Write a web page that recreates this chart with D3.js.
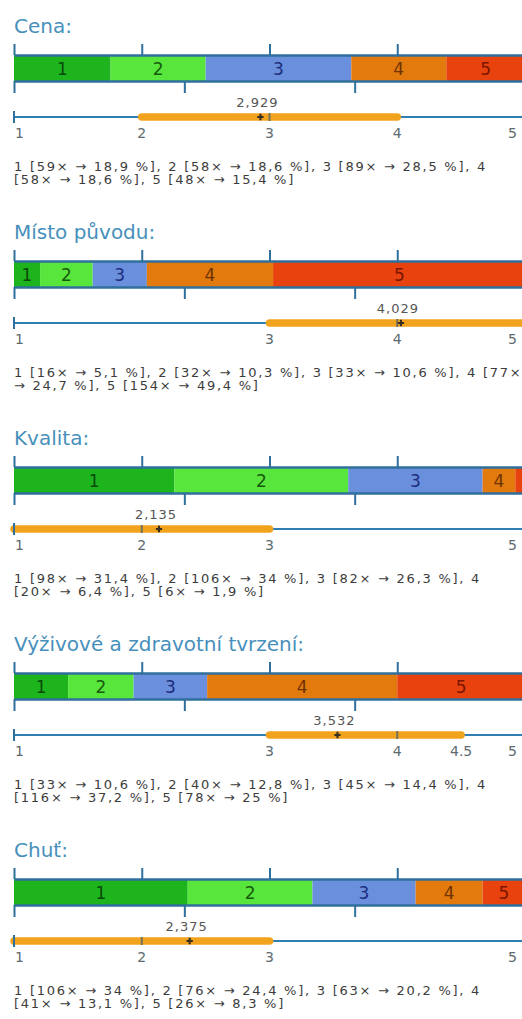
<!DOCTYPE html>
<html>
<head>
<meta charset="utf-8">
<script src="https://cdn.jsdelivr.net/npm/d3@7"></script>
<style>
  body { margin: 0; background: #fff; }
  svg { display: block; font-family: "DejaVu Sans", Verdana, sans-serif; }
</style>
</head>
<body>
<div id="holder"></div>
<script>
// questions
const titles = ["Cena:", "Místo původu:", "Kvalita:", "Výživové a zdravotní tvrzení:", "Chuť:"]
const levels = [1, 2, 3, 4, 5]

// answer counts per level
const counts = [
    [59, 58, 89, 58, 48],
    [16, 32, 33, 77, 154],
    [98, 106, 82, 20, 6],
    [33, 40, 45, 116, 78],
    [106, 76, 63, 41, 26]
]
const percents = [
    [18.9, 18.6, 28.5, 18.6, 15.4],
    [5.1, 10.3, 10.6, 24.7, 49.4],
    [31.4, 34, 26.3, 6.4, 1.9],
    [10.6, 12.8, 14.4, 37.2, 25],
    [34, 24.4, 20.2, 13.1, 8.3]
]
const means = [2.929, 4.029, 2.135, 3.532, 2.375]
const medians = [3, 4, 2, 4, 2]
const quart1 = [2, 3, 1, 3, 1]
const quart3 = [4, 5, 3, 4.5, 3]

const fillColors = ["#1eb41e", "#58e63c", "#6a8fdc", "#e27a0e", "#e8420e"]
const textColors = ["#0a4a0a", "#175a0e", "#1c2d7c", "#6e3300", "#7a1500"]

const width = 522
const height = 1019
const left = 14
const right = 525
const step = 206

const svg = d3.select("#holder")
    .append("svg")
    .attr("width", width)
    .attr("height", height)

const x_pct = d3.scaleLinear().domain([0, 100]).range([left, right])
const x_score = d3.scaleLinear().domain([1, 5]).range([left, right])

const commaFmt = d3.formatLocale({ decimal: ",", thousands: " ", grouping: [3], currency: ["", ""] }).format(".3f")

function wrap(text, w) {
    text.each(function() {
        const t = d3.select(this)
        const words = t.text().split(/\s+/).reverse()
        let word, line = [], n = 0
        const x = t.attr("x"), y = t.attr("y")
        let tspan = t.text(null).append("tspan").attr("x", x).attr("y", y)
        while (word = words.pop()) {
            line.push(word)
            tspan.text(line.join(" "))
            if (tspan.node().getComputedTextLength() > w) {
                line.pop()
                tspan.text(line.join(" "))
                line = [word]
                tspan = t.append("tspan").attr("x", x).attr("y", +y + (++n) * 13.5).text(word)
            }
        }
    })
}

titles.forEach((title, k) => {
    const g = svg.append("g").attr("transform", `translate(0,${k * step})`)

    g.append("text")
        .attr("x", left)
        .attr("y", 33)
        .attr("font-size", 20)
        .attr("fill", "#4790bb")
        .text(title)

    // stacked bar
    const pcts = percents[k]
    const starts = d3.cumsum([0].concat(pcts))
    const seg = g.append("g")
        .selectAll("g")
        .data(levels)
        .join("g")

    seg.append("rect")
        .attr("x", (d, i) => x_pct(starts[i]))
        .attr("y", 55)
        .attr("width", (d, i) => x_pct(starts[i] + pcts[i]) - x_pct(starts[i]))
        .attr("height", 26)
        .attr("fill", (d, i) => fillColors[i])

    seg.filter((d, i) => pcts[i] > 3)
        .append("text")
        .attr("x", (d, i) => x_pct(starts[i] + pcts[i] / 2))
        .attr("y", 75)
        .attr("text-anchor", "middle")
        .attr("font-size", 17)
        .attr("fill", (d, i) => textColors[i])
        .text(d => d)

    const axTop = g.append("g")
        .attr("transform", "translate(0,55)")
        .call(d3.axisTop(x_pct).tickValues([0, 25, 50, 75, 100]).tickSize(11).tickSizeOuter(0).tickFormat(""))
    const axBot = g.append("g")
        .attr("transform", "translate(0,81)")
        .call(d3.axisBottom(x_pct).tickValues([0, 100 / 3, 200 / 3, 100]).tickSize(12).tickSizeOuter(0).tickFormat(""))
    ;[axTop, axBot].forEach(a => {
        a.select(".domain").attr("stroke", "#2f6f9c").attr("stroke-width", 2.5)
        a.selectAll(".tick line").attr("stroke", "#2f6f9c").attr("stroke-width", 2)
    })

    // score line
    const ly = 117
    g.append("line")
        .attr("x1", x_score(1)).attr("x2", x_score(5))
        .attr("y1", ly).attr("y2", ly)
        .attr("stroke", "#2f7fb5")
        .attr("stroke-width", 2)

    g.append("line")
        .attr("x1", x_score(quart1[k])).attr("x2", x_score(quart3[k]))
        .attr("y1", ly).attr("y2", ly)
        .attr("stroke", "#f2a31e")
        .attr("stroke-width", 7.5)
        .attr("stroke-linecap", "round")

    g.append("line")
        .attr("x1", x_score(1)).attr("x2", x_score(1))
        .attr("y1", ly - 6).attr("y2", ly + 6)
        .attr("stroke", "#2f6f9c")
        .attr("stroke-width", 2)

    g.append("line")
        .attr("x1", x_score(medians[k])).attr("x2", x_score(medians[k]))
        .attr("y1", ly - 4).attr("y2", ly + 4)
        .attr("stroke", "#75705a")
        .attr("stroke-width", 2)

    g.append("path")
        .attr("d", d3.symbol().type(d3.symbolCross).size(22)())
        .attr("transform", `translate(${x_score(means[k])},${ly})`)
        .attr("fill", "#3a3020")

    g.append("text")
        .attr("x", x_score(means[k]) - 3)
        .attr("y", 107)
        .attr("text-anchor", "middle")
        .attr("font-size", 13)
        .attr("letter-spacing", 1)
        .attr("fill", "#555")
        .text(commaFmt(means[k]))

    const labs = Array.from(new Set([1, quart1[k], medians[k], quart3[k], 5]))
    g.append("g")
        .selectAll("text")
        .data(labs)
        .join("text")
        .attr("x", d => d == 1 ? x_score(d) + 1 : d == 5 ? x_score(d) - 8 : x_score(d))
        .attr("y", 138)
        .attr("text-anchor", d => d == 1 ? "start" : d == 5 ? "end" : "middle")
        .attr("font-size", 14)
        .attr("fill", "#5d6a70")
        .text(d => d)

    const desc = counts[k].map((c, i) => `${levels[i]} [${c}× → ${String(pcts[i]).replace(".", ",")} %]`).join(", ")
    g.append("text")
        .attr("x", left)
        .attr("y", 170.5)
        .attr("font-size", 13)
        .attr("letter-spacing", 1.75)
        .attr("fill", "#3c3c3c")
        .text(desc)
        .call(wrap, 511)
})
</script>
</body>
</html>
